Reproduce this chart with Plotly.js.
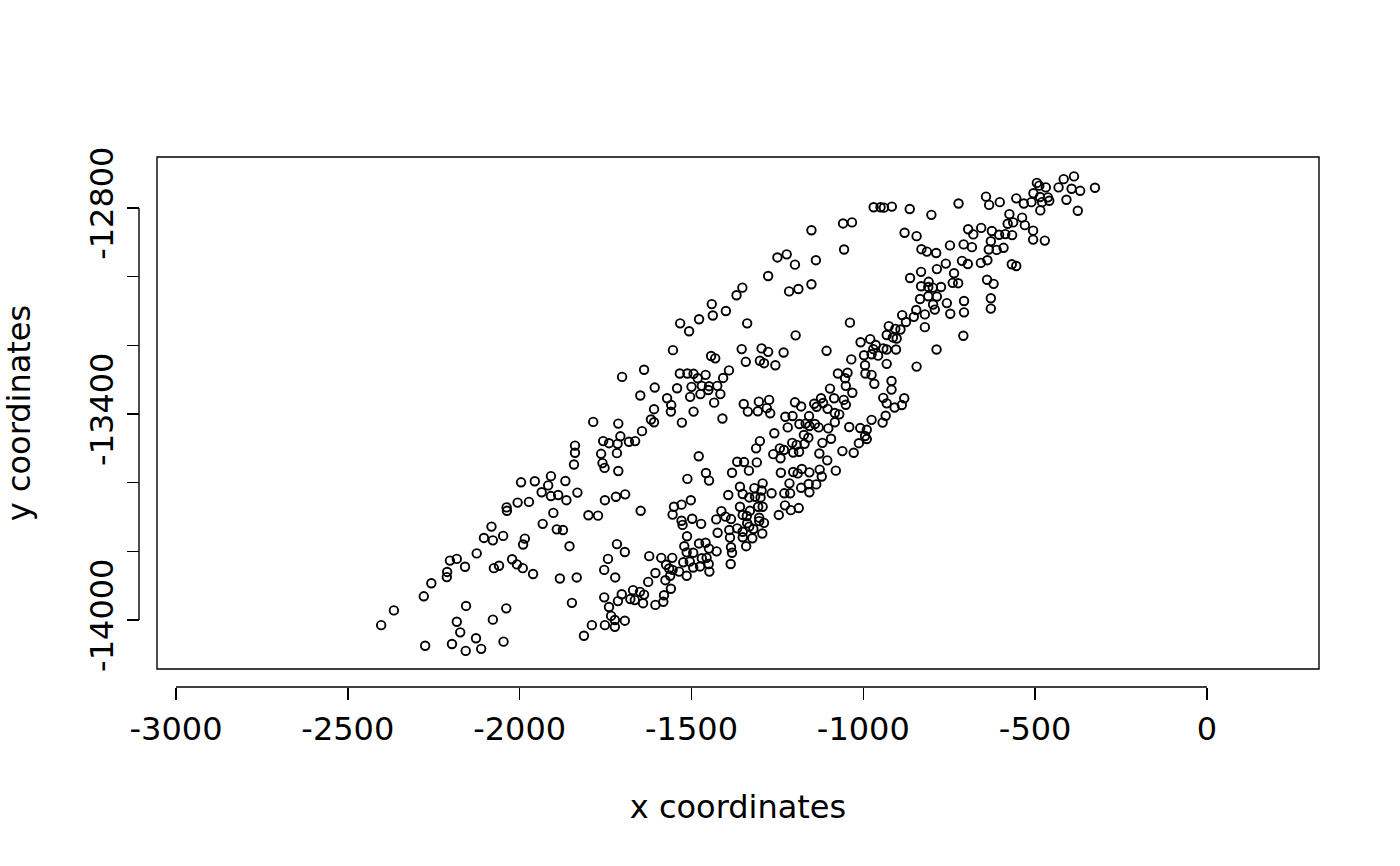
<!DOCTYPE html>
<html>
<head>
<meta charset="utf-8">
<script src="https://cdn.plot.ly/plotly-3.0.1.min.js"></script>
<style>html,body{margin:0;padding:0;background:#fff;}#chart{width:1400px;height:866px;}</style>
</head>
<body>
<div id="chart"></div>
<script>
// x coordinates of the points
var xCoords = [
-387,-417,-495,-488,-469,-432,-394,-369,-326,-505,
-486,-463,-459,-480,-485,-409,-376,-643,-634,-603,
-555,-533,-511,-723,-802,-575,-538,-580,-564,-530,
-695,-680,-657,-626,-605,-587,-567,-506,-506,-472,
-629,-635,-612,-592,-748,-708,-684,-815,-788,-713,
-696,-658,-639,-760,-786,-568,-555,-736,-740,-724,
-640,-621,-810,-811,-798,-774,-811,-786,-629,-707,
-757,-797,-792,-707,-747,-629,-821,-821,-709,-787,
-970,-950,-940,-917,-865,-1059,-1033,-1151,-880,-845,
-1056,-831,-1250,-1223,-1199,-1138,-1277,-1352,-1216,-1189,
-1151,-832,-864,-832,-835,-846,-887,-853,-876,-926,
-907,-892,-1338,-1039,-1197,-932,-1369,-1441,-1400,-1438,
-1478,-1533,-1507,
-914,-903,-980,-1008,-964,-971,-942,-932,-905,-998,
-976,-957,-1354,-1296,-1277,-1232,-1107,-1342,-1301,-1289,
-1256,-1035,-995,-932,-845,-1074,-1046,-1053,-994,-976,
-968,-918,-1051,-1097,-918,-1032,-1123,-1085,-1117,-1057,
-1051,-942,-932,-881,-888,-909,-1348,-1304,-1274,-1336,
-1307,-1281,-1271,-1199,-1181,-1143,-1136,-1104,-1083,-1070,
-1227,-1206,-1158,-935,-976,-944,-1186,-1168,-1157,-1141,
-1130,-1220,-1083,-1102,-1041,-1009,-990,-1259,-1173,-1160,
-995,-990,-1094,-1301,-1207,-1194,-1171,-1119,-1013,-1312,
-1243,-1231,-1262,-1241,-1204,-1187,-1128,-1061,-1028,-1347,
-1310,-1105,-1333,-1240,-1204,-1191,-1179,-1157,-1127,-1121,
-1080,-1215,-1181,-1159,-1137,-1293,-1317,-1359,-1296,-1267,
-1230,-1213,-1157,
-1351,-1332,-1315,-1299,-1359,-1330,-1306,-1293,-1351,-1339,
-1303,-1303,-1289,-1338,-1332,-1320,-1351,-1351,-1323,-1294,
-1341,-1246,-1228,-1211,-1188,
-1888,-1864,-1832,-1752,-1720,-1693,-1902,-1800,-1772,-1648,
-1892,-1874,-1855,-1717,-1694,-1743,-1754,-1722,-1883,-1834,
-1848,-1754,-1740,-1734,-1723,-1723,-1752,-1790,-1813,-1694,
-1714,-1703,-1670,-1678,-1665,-1650,-1638,-1641,-1605,-1582,
-1580,-1560,-1626,-1605,-1576,-1562,-1623,-1588,-1556,-1574,
-1565,-1555,-1536,-1514,-1524,-1505,-1495,-1475,-1470,-1456,
-1450,-1448,-1521,-1514,-1495,-1478,-1459,-1449,-1427,-1513,
-1424,-1529,-1526,-1498,-1472,-1551,-1529,-1502,-1555,-1428,
-1413,-1401,-1385,-1390,-1367,-1388,-1385,-1382,-1386,-1393,
-1936,-1909,-2038,-2037,-2006,-1973,-1933,-2082,-2104,-2078,
-2048,-1985,-1990,-2125,-2203,-2183,-2159,-2211,-2212,-2257,
-2279,-2366,-2403,-2075,-2060,-2022,-2008,-1991,-1961,-2156,
-2039,-2183,-2078,-2173,-2127,-2047,-2275,-2197,-2157,-2112,
-1996,-1956,-1909,-1917,
-1554,-1443,-1431,-1638,-1702,-1534,-1512,-1494,-1459,-1482,
-1391,-1408,-1607,-1542,-1500,-1470,-1449,-1425,-1451,-1474,
-1504,-1416,-1649,-1571,-1559,-1560,-1609,-1494,-1434,-1410,
-1618,-1609,-1528,-1786,-1713,-1644,-1707,-1757,-1740,-1715,
-1682,-1664,-1839,-1839,-1763,-1717,-1842,-1759,-1753,-1713,
-1479,-1367,-1458,-1382,-1512,-1449,-1867
];
// y coordinates of the points
var yCoords = [
-12708,-12716,-12727,-12735,-12740,-12740,-12744,-12750,-12741,-12757,
-12768,-12769,-12779,-12783,-12807,-12776,-12808,-12767,-12791,-12783,
-12772,-12787,-12783,-12787,-12820,-12818,-12828,-12846,-12842,-12850,
-12862,-12877,-12858,-12867,-12878,-12876,-12879,-12866,-12892,-12895,
-12897,-12921,-12922,-12916,-12909,-12906,-12914,-12927,-12931,-12954,
-12963,-12960,-12952,-12962,-12978,-12964,-12969,-12990,-13018,-13019,
-13009,-13021,-13015,-13030,-13032,-13030,-13057,-13058,-13063,-13071,
-13077,-13081,-13096,-13104,-13108,-13093,-13110,-13147,-13172,-13212,
-12798,-12798,-12799,-12796,-12803,-12845,-12842,-12865,-12872,-12882,
-12921,-12920,-12944,-12935,-12965,-12952,-12998,-13032,-13043,-13036,
-13022,-12986,-13004,-13028,-13065,-13097,-13112,-13117,-13132,-13144,
-13152,-13154,-13136,-13134,-13171,-13170,-13054,-13080,-13100,-13113,
-13124,-13136,-13159,
-13177,-13180,-13182,-13191,-13199,-13211,-13209,-13212,-13212,-13229,
-13226,-13230,-13211,-13209,-13219,-13221,-13216,-13248,-13245,-13252,
-13258,-13241,-13258,-13254,-13262,-13282,-13280,-13296,-13282,-13286,
-13312,-13304,-13318,-13326,-13329,-13338,-13354,-13354,-13368,-13359,
-13373,-13353,-13369,-13354,-13374,-13381,-13371,-13364,-13359,-13393,
-13392,-13383,-13398,-13366,-13378,-13370,-13379,-13385,-13397,-13401,
-13408,-13406,-13406,-13405,-13417,-13425,-13429,-13428,-13435,-13429,
-13439,-13439,-13424,-13442,-13438,-13441,-13446,-13456,-13461,-13469,
-13464,-13473,-13472,-13479,-13484,-13490,-13487,-13484,-13485,-13500,
-13500,-13505,-13517,-13529,-13512,-13510,-13515,-13508,-13513,-13540,
-13541,-13535,-13565,-13571,-13569,-13573,-13560,-13570,-13562,-13582,
-13565,-13602,-13615,-13604,-13605,-13602,-13616,-13612,-13623,-13631,
-13631,-13631,-13628,
-13633,-13643,-13641,-13643,-13670,-13682,-13670,-13670,-13694,-13697,
-13702,-13712,-13717,-13718,-13728,-13735,-13743,-13759,-13762,-13748,
-13785,-13694,-13666,-13680,-13674,
-13636,-13651,-13629,-13651,-13641,-13634,-13688,-13695,-13696,-13682,
-13736,-13738,-13785,-13779,-13802,-13822,-13854,-13876,-13879,-13876,
-13950,-13934,-13962,-13988,-14000,-14020,-14015,-14015,-14046,-14002,
-13945,-13925,-13913,-13939,-13942,-13918,-13926,-13951,-13956,-13947,
-13928,-13909,-13889,-13863,-13884,-13871,-13814,-13819,-13819,-13839,
-13850,-13854,-13859,-13871,-13832,-13830,-13847,-13844,-13820,-13819,
-13837,-13859,-13785,-13803,-13804,-13777,-13775,-13792,-13800,-13756,
-13746,-13711,-13723,-13705,-13720,-13670,-13664,-13651,-13693,-13707,
-13683,-13699,-13706,-13738,-13733,-13760,-13788,-13804,-13837,-13636,
-13628,-13639,-13672,-13682,-13658,-13656,-13720,-13728,-13761,-13768,
-13755,-13763,-13780,-13806,-13827,-13822,-13845,-13860,-13875,-13893,
-13931,-13972,-14015,-13849,-13842,-13823,-13838,-13849,-13866,-13959,
-13966,-14005,-13999,-14036,-14053,-14063,-14075,-14070,-14090,-14084,
-13599,-13596,-13581,-13608,
-13214,-13231,-13238,-13271,-13292,-13282,-13282,-13283,-13286,-13296,
-13273,-13295,-13323,-13325,-13321,-13318,-13319,-13318,-13330,-13342,
-13350,-13342,-13346,-13354,-13374,-13393,-13386,-13393,-13367,-13413,
-13416,-13424,-13425,-13423,-13428,-13450,-13465,-13479,-13485,-13487,
-13481,-13479,-13492,-13513,-13516,-13514,-13547,-13543,-13557,-13566,
-13523,-13539,-13572,-13571,-13589,-13594,-13595
];

var xTickVals = [-3000, -2500, -2000, -1500, -1000, -500, 0];
var xTickText = ['-3000', '-2500', '-2000', '-1500', '-1000', '-500', '0'];
var yTickVals = [-14000, -13800, -13600, -13400, -13200, -13000, -12800];
var yTickText = ['-14000', '', '', '-13400', '', '', '-12800'];
var xTitle = 'x coordinates';
var yTitle = 'y coordinates';

var font = {family: 'DejaVu Sans, sans-serif', size: 32, color: '#000'};

var trace = {
  x: xCoords, y: yCoords, type: 'scatter', mode: 'markers',
  marker: {symbol: 'circle-open', size: 8.5, color: '#000', line: {width: 1.9, color: '#000'}},
  hoverinfo: 'x+y', showlegend: false
};

var layout = {
  width: 1400, height: 866,
  margin: {l: 139, r: 81, t: 157, b: 179, pad: 0},
  paper_bgcolor: '#fff', plot_bgcolor: '#fff',
  font: font,
  showlegend: false,
  xaxis: {
    domain: [18/1180, 1], range: [-3055.3, 325.9], autorange: false,
    anchor: 'free', position: 0,
    tickmode: 'array', tickvals: xTickVals, ticktext: xTickText,
    ticks: 'outside', ticklen: 12, tickwidth: 1.4, tickcolor: '#000',
    ticklabelstandoff: 2,
    showline: false, showgrid: false, zeroline: false,
    tickfont: font, automargin: false,
    title: {text: xTitle, font: font, standoff: 48}
  },
  yaxis: {
    domain: [18/530, 1], range: [-14142.7, -12651.5], autorange: false,
    anchor: 'free', position: 0,
    tickmode: 'array', tickvals: yTickVals, ticktext: yTickText,
    ticks: 'outside', ticklen: 12, tickwidth: 1.4, tickcolor: '#000',
    tickangle: -90, ticklabelstandoff: 1,
    showline: false, showgrid: false, zeroline: false,
    tickfont: font, automargin: false,
    title: {text: yTitle, font: font, standoff: 48}
  },
  shapes: [
    {type: 'rect', xref: 'x domain', yref: 'y domain', x0: 0, x1: 1, y0: 0, y1: 1,
     line: {color: '#000', width: 1.4}, fillcolor: 'rgba(0,0,0,0)', layer: 'above'},
    {type: 'line', xref: 'x', yref: 'paper', x0: xTickVals[0], x1: xTickVals[xTickVals.length-1], y0: 0, y1: 0,
     line: {color: '#000', width: 1.4}},
    {type: 'line', xref: 'paper', yref: 'y', x0: 0, x1: 0, y0: yTickVals[0], y1: yTickVals[yTickVals.length-1],
     line: {color: '#000', width: 1.4}}
  ]
};

Plotly.newPlot('chart', [trace], layout, {displayModeBar: false, staticPlot: true});
</script>
</body>
</html>
